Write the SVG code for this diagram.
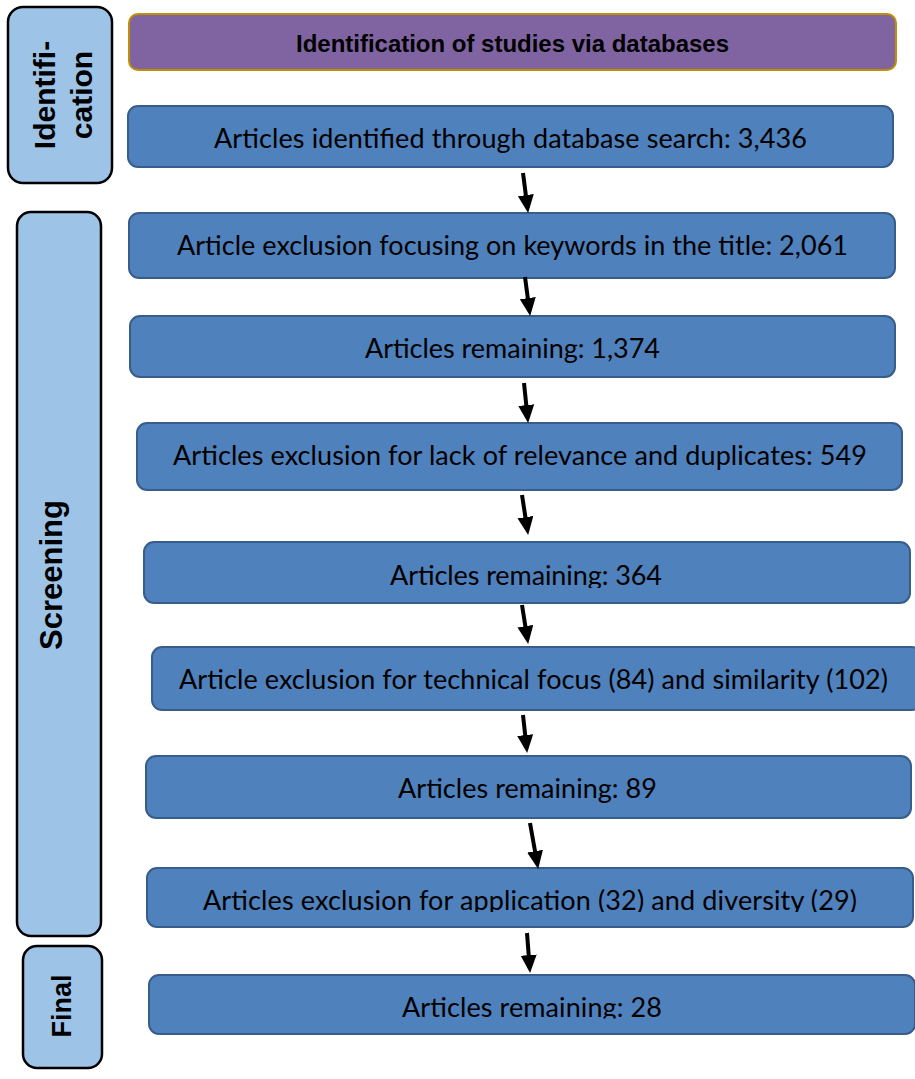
<svg xmlns="http://www.w3.org/2000/svg" width="915" height="1079" viewBox="0 0 915 1079">
<style>
.stage{fill:#9DC3E6;stroke:#000;stroke-width:2.5}
.stxt{font-family:"Liberation Sans",Arial,sans-serif;font-weight:bold;fill:#000;text-anchor:middle}
.box{fill:#4F81BD;stroke:#385D8A;stroke-width:2}
.btxt{font-family:Lato,"Open Sans",sans-serif;font-size:27px;fill:#000}
.hdr{fill:#8064A2;stroke:#C09000;stroke-width:2}
.htxt{font-family:"Liberation Sans",Arial,sans-serif;font-weight:bold;font-size:24px;fill:#000}
.arr{stroke:#000;stroke-width:4;fill:none;marker-end:url(#ah)}
</style>
<defs>
<marker id="ah" markerUnits="userSpaceOnUse" markerWidth="19" markerHeight="17" refX="13" refY="8" orient="auto">
<path d="M0,0 L18,8 L0,16 z" fill="#000"/>
</marker>
<clipPath id="c5"><rect x="140" y="540" width="775" height="48"/></clipPath>
<clipPath id="c8"><rect x="140" y="865" width="775" height="47"/></clipPath>
<clipPath id="c9"><rect x="140" y="972" width="775" height="46.5"/></clipPath>
</defs>
<rect width="915" height="1079" fill="#fff"/>

<g id="stage-identification">
<rect class="stage" x="8" y="7" width="104" height="176" rx="15"/>
<text class="stxt" font-size="30" transform="translate(55,95) rotate(-90)">Identifi-</text>
<text class="stxt" font-size="30" transform="translate(92,95) rotate(-90)">cation</text>
</g>
<g id="stage-screening">
<rect class="stage" x="17" y="212" width="84" height="724" rx="14"/>
<text class="stxt" font-size="31" transform="translate(62,575) rotate(-90)">Screening</text>
</g>
<g id="stage-final">
<rect class="stage" x="23" y="946" width="79" height="122" rx="14"/>
<text class="stxt" font-size="27" transform="translate(71,1006) rotate(-90)">Final</text>
</g>

<g id="header">
<rect class="hdr" x="129" y="14" width="767" height="56" rx="9"/>
<text class="htxt" x="296" y="52" textLength="433">Identification of studies via databases</text>
</g>

<g id="n1">
<rect class="box" x="128" y="106" width="765" height="61" rx="10"/>
<text class="btxt" x="214" y="148" textLength="593">Articles identified through database search: 3,436</text>
</g>
<g id="n2">
<rect class="box" x="129" y="213" width="766" height="65" rx="10"/>
<text class="btxt" x="177" y="255" textLength="671">Article exclusion focusing on keywords in the title: 2,061</text>
</g>
<g id="n3">
<rect class="box" x="130" y="316" width="765" height="61" rx="10"/>
<text class="btxt" x="365" y="358" textLength="295">Articles remaining: 1,374</text>
</g>
<g id="n4">
<rect class="box" x="137" y="423" width="765" height="67" rx="10"/>
<text class="btxt" x="173" y="465" textLength="694">Articles exclusion for lack of relevance and duplicates: 549</text>
</g>
<g id="n5">
<rect class="box" x="144" y="542" width="766" height="61" rx="10"/>
<text class="btxt" x="390" y="585" textLength="272" clip-path="url(#c5)">Articles remaining: 364</text>
</g>
<g id="n6">
<rect class="box" x="152" y="647" width="770" height="63" rx="10"/>
<text class="btxt" x="179" y="689" textLength="709">Article exclusion for technical focus (84) and similarity (102)</text>
</g>
<g id="n7">
<rect class="box" x="146" y="756" width="765" height="62" rx="10"/>
<text class="btxt" x="398" y="798" textLength="259">Articles remaining: 89</text>
</g>
<g id="n8">
<rect class="box" x="147" y="868" width="766" height="59" rx="10"/>
<text class="btxt" x="203" y="910" textLength="654" clip-path="url(#c8)">Articles exclusion for application (32) and diversity (29)</text>
</g>
<g id="n9">
<rect class="box" x="149" y="975" width="766" height="59" rx="10"/>
<text class="btxt" x="402" y="1017" textLength="260" clip-path="url(#c9)">Articles remaining: 28</text>
</g>

<g id="connectors">
<line class="arr" x1="523" y1="173" x2="527.5" y2="208"/>
<line class="arr" x1="525" y1="277" x2="529.5" y2="311"/>
<line class="arr" x1="524" y1="383" x2="527.6" y2="418"/>
<line class="arr" x1="522" y1="495" x2="527.4" y2="530"/>
<line class="arr" x1="522" y1="605" x2="527.4" y2="639"/>
<line class="arr" x1="523" y1="715" x2="526.6" y2="748"/>
<line class="arr" x1="530" y1="823" x2="537.3" y2="864"/>
<line class="arr" x1="527" y1="933" x2="529.7" y2="968"/>
</g>
</svg>
